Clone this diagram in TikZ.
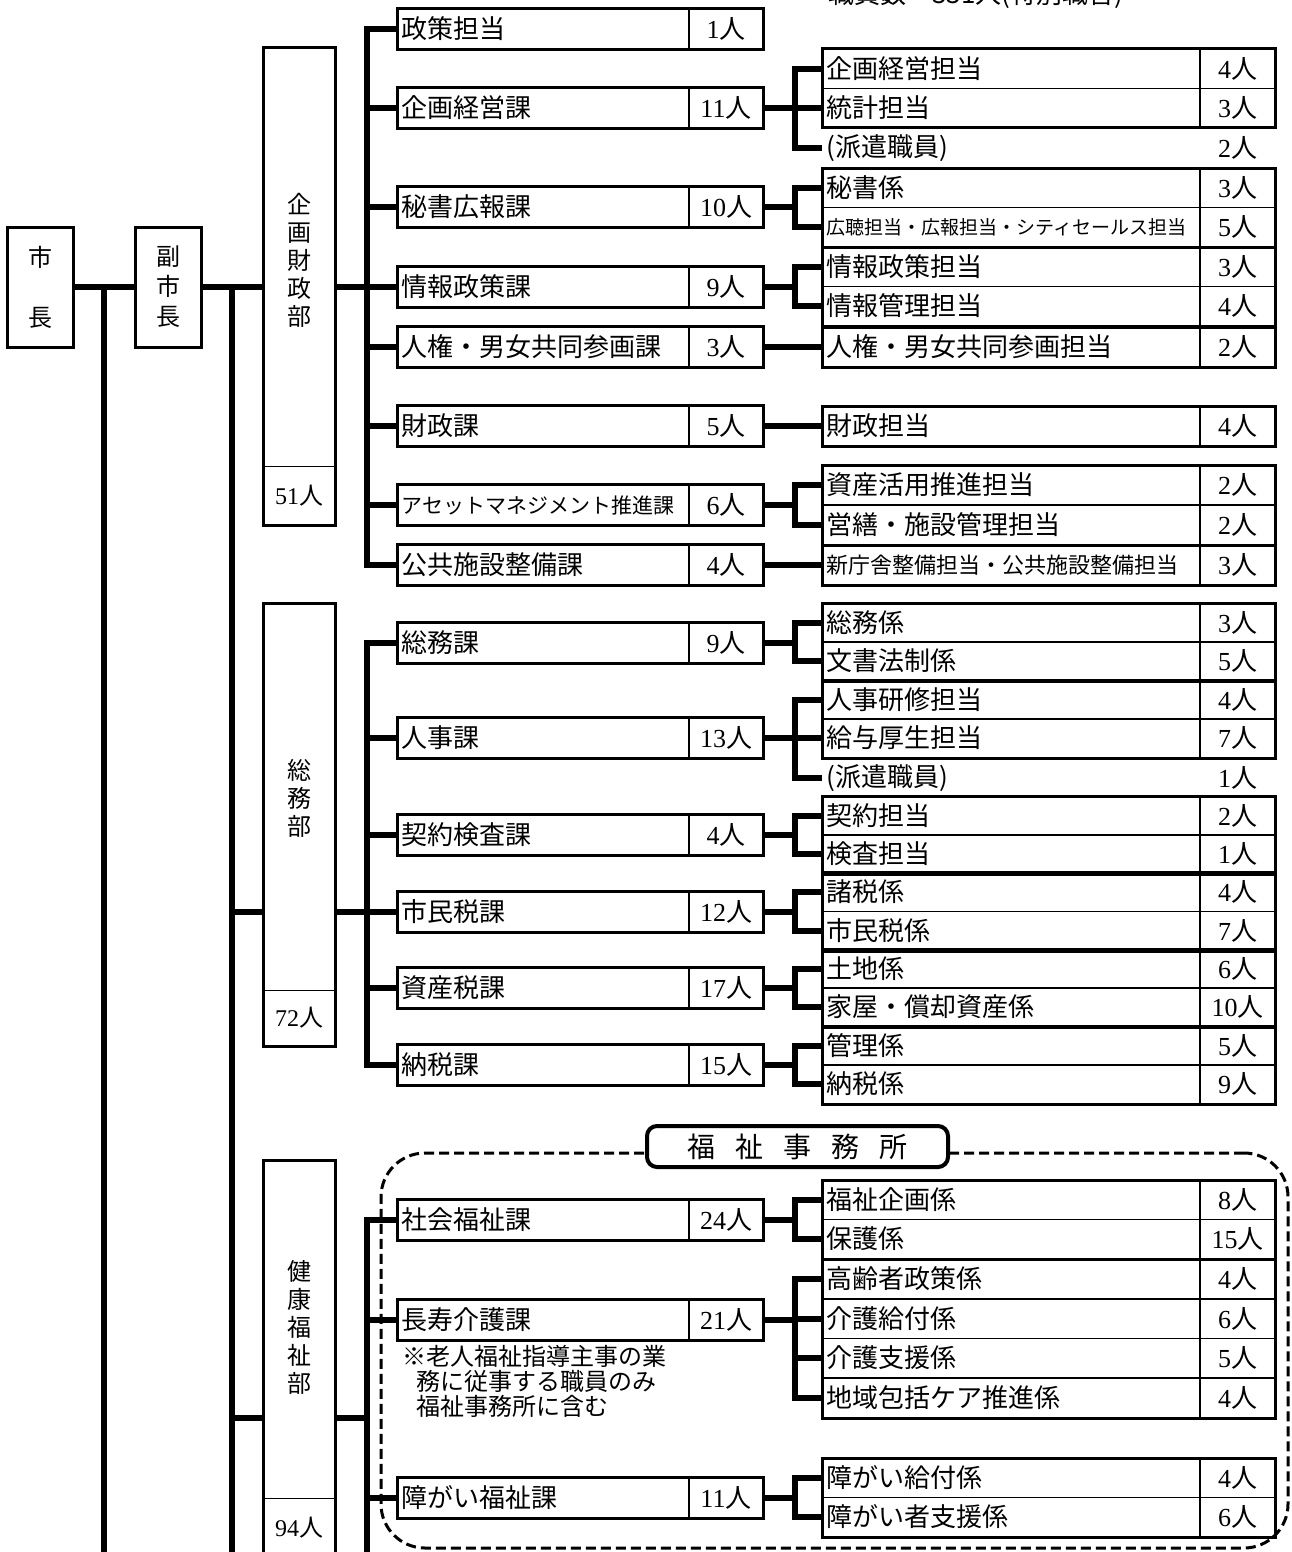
\documentclass[tikz,border=0pt]{standalone}
\usepackage{fontspec}
\setmainfont{Liberation Serif}
\newfontfamily\jp{Noto Sans CJK JP}
\usetikzlibrary{positioning}
\newcommand\jpfs[1]{\fontsize{#1}{#1}\selectfont}
\tikzset{
  frame/.style={line width=1.5pt},
  link/.style={line width=3pt},
  boss/.style={draw, line width=1.5pt, minimum width=33pt, minimum height=60pt, inner sep=0pt, align=center, font=\jp\fontsize{12pt}{14pt}\selectfont},
  bu/.style={draw, line width=1.5pt, minimum width=36pt, inner sep=0pt},
  bulbl/.style={align=center, inner sep=0pt, font=\jp\fontsize{12pt}{14pt}\selectfont},
  bunum/.style={draw, line width=0.5pt, minimum width=36pt, inner sep=0pt, font=\fontsize{12pt}{14pt}\selectfont},
  ka/.style={draw, line width=0.5pt, anchor=west, minimum height=20pt, inner xsep=2pt, inner ysep=0pt, text width=141.5pt, align=left, font=\jp\fontsize{13pt}{15pt}\selectfont},
  kanum/.style={draw, line width=0.5pt, anchor=west, minimum width=36.5pt, minimum height=20pt, inner sep=0pt, font=\fontsize{13pt}{15pt}\selectfont},
  kakari/.style={ka, minimum height=19.5pt, text width=184.5pt},
  kakarinum/.style={kanum, minimum width=37pt, minimum height=19.5pt},
  office/.style={draw, dash pattern=on 5pt off 2.5pt, line width=1.5pt, rounded corners=22pt, minimum width=453.5pt, minimum height=197.5pt},
  officetag/.style={draw, fill=white, line width=2pt, rounded corners=5pt, minimum width=150.5pt, minimum height=20.5pt, inner sep=0pt, font=\jp\fontsize{14pt}{16pt}\selectfont},
  note/.style={align=left, inner sep=0pt, font=\jp\fontsize{12pt}{12.5pt}\selectfont},
}

\begin{document}
\begin{tikzpicture}[x=0.5pt, y=-0.5pt]
  \useasboundingbox (0,0) rectangle (1291,1552);
  \node[office] (fo) at (834.5,1350.5) {};
  \node[officetag, yshift=2.5pt] (fo-t) at (797.5,0 |- fo.north) {福\hspace{10pt}祉\hspace{10pt}事\hspace{10pt}務\hspace{10pt}所};
  \node[anchor=base west, inner sep=0pt, font=\jp\fontsize{13pt}{15pt}\selectfont] (head) at (828,4) {職員数　331人(特別職含)};
  \node[boss] (mayor) at (40,287) {市\\[16pt]長};
  \node[boss] (vice) at (168,287) {副\\[1pt]市\\[1pt]長};
  \coordinate (bus1) at (104,287);
  \coordinate (bus2) at (232,287);
  \coordinate (bus3) at (367,287);
  \coordinate (bot) at (0,1560);
  \draw[link] (mayor.east) -- (vice.west);
  \draw[link] (vice.east) -- (bus2);
  \draw[link] (bus1) -- (bus1 |- bot);
  \draw[link] (bus2) -- (bus2 |- bot);
  \foreach \d/\y/\h/\ly/\t/\cy/\ch/\c/\jy in {
    kz/286.5/238.5pt/260/{企\\画\\財\\政\\部}/495.5/29.5pt/51/287,
    sm/824.5/221.5pt/798/{総\\務\\部}/1018/28pt/72/912,
    kf/1365/205pt/1327/{健\\康\\福\\祉\\部}/1528/29.5pt/94/1418} {
    \node[bu, minimum height=\h] (\d) at (299,\y) {};
    \node[bulbl] (\d-t) at (299,\ly) {\t};
    \node[bunum, minimum height=\ch] (\d-c) at (299,\cy) {\c{\jp 人}};
    \coordinate (\d-j) at (299,\jy);
    \draw[link] (bus2 |- \d-j) -- (\d.west |- \d-j);
    \draw[link] (\d.east |- \d-j) -- (bus3 |- \d-j);
  }
  \draw[link] (bus3 |- kf-j) -- (bus3 |- bot);
  \foreach \s/\y/\t/\c/\d in {
    s1/29/政策担当/1/kz, s2/108/企画経営課/11/kz, s3/207/秘書広報課/10/kz,
    s4/287/情報政策課/9/kz, s5/347/人権・男女共同参画課/3/kz, s6/426/財政課/5/kz,
    s7/505/{\jpfs{10.5pt}アセットマネジメント推進課}/6/kz, s8/565/公共施設整備課/4/kz,
    s9/643/総務課/9/sm, s10/738/人事課/13/sm, s11/835/契約検査課/4/sm,
    s12/912/市民税課/12/sm, s13/988/資産税課/17/sm, s14/1065/納税課/15/sm,
    s15/1220/社会福祉課/24/kf, s16/1320/長寿介護課/21/kf, s17/1498/障がい福祉課/11/kf} {
    \node[ka] (\s) at (397,\y) {\t};
    \node[kanum] (\s-c) at (\s.east) {\c{\jp 人}};
    \draw[frame] (\s.north west) rectangle (\s-c.south east);
    \draw[link] (bus3 |- \d-j) |- (\s.west);
  }
  \foreach \n/\y/\t/\c/\p in {
    r1/69/企画経営担当/4/s2, r2/108/統計担当/3/s2,
    r4/188/秘書係/3/s3, r5/227/{\jpfs{9.5pt}広聴担当・広報担当・シティセールス担当}/5/s3,
    r6/267/情報政策担当/3/s4, r7/306/情報管理担当/4/s4,
    r8/347/人権・男女共同参画担当/2/s5, r9/426/財政担当/4/s6,
    r10/485/資産活用推進担当/2/s7, r11/525/営繕・施設管理担当/2/s7,
    r12/565/{\jpfs{11pt}新庁舎整備担当・公共施設整備担当}/3/s8,
    r13/623/総務係/3/s9, r14/661/文書法制係/5/s9,
    r15/700/人事研修担当/4/s10, r16/738/給与厚生担当/7/s10,
    r18/816/契約担当/2/s11, r19/854/検査担当/1/s11,
    r20/892/諸税係/4/s12, r21/931/市民税係/7/s12,
    r22/969/土地係/6/s13, r23/1007/家屋・償却資産係/10/s13,
    r24/1046/管理係/5/s14, r25/1084/納税係/9/s14,
    r26/1200/福祉企画係/8/s15, r27/1239/保護係/15/s15,
    r28/1279/高齢者政策係/4/s16, r29/1319/介護給付係/6/s16,
    r30/1358/介護支援係/5/s16, r31/1398/地域包括ケア推進係/4/s16,
    r32/1478/障がい給付係/4/s17, r33/1517/障がい者支援係/6/s17} {
    \node[kakari] (\n) at (822,\y) {\t};
    \node[kakarinum] (\n-c) at (\n.east) {\c{\jp 人}};
    \draw[link] (\p-c.east) -- ++(16pt,0) |- (\n.west);
  }
  \foreach \n/\y/\c/\p in {r3/148/2/s2, r17/778/1/s10} {
    \node[kakari, draw=none] (\n) at (822,\y) {(派遣職員)};
    \node[kakarinum, draw=none] (\n-c) at (\n.east) {\c{\jp 人}};
    \draw[link] (\p-c.east) -- ++(16pt,0) |- (\n.west);
  }
  \foreach \a/\b in {r1/r2, r4/r5, r6/r7, r8/r8, r9/r9, r10/r11, r12/r12, r13/r14, r15/r16,
    r18/r19, r20/r21, r22/r23, r24/r25, r26/r27, r28/r31, r32/r33}
    \draw[frame] (\a.north west) rectangle (\b-c.south east);
  \node[note, anchor=west] (kf-n) at (402,1381) {※老人福祉指導主事の業\\\hspace*{7pt}務に従事する職員のみ\\\hspace*{7pt}福祉事務所に含む};
\end{tikzpicture}
\end{document}
